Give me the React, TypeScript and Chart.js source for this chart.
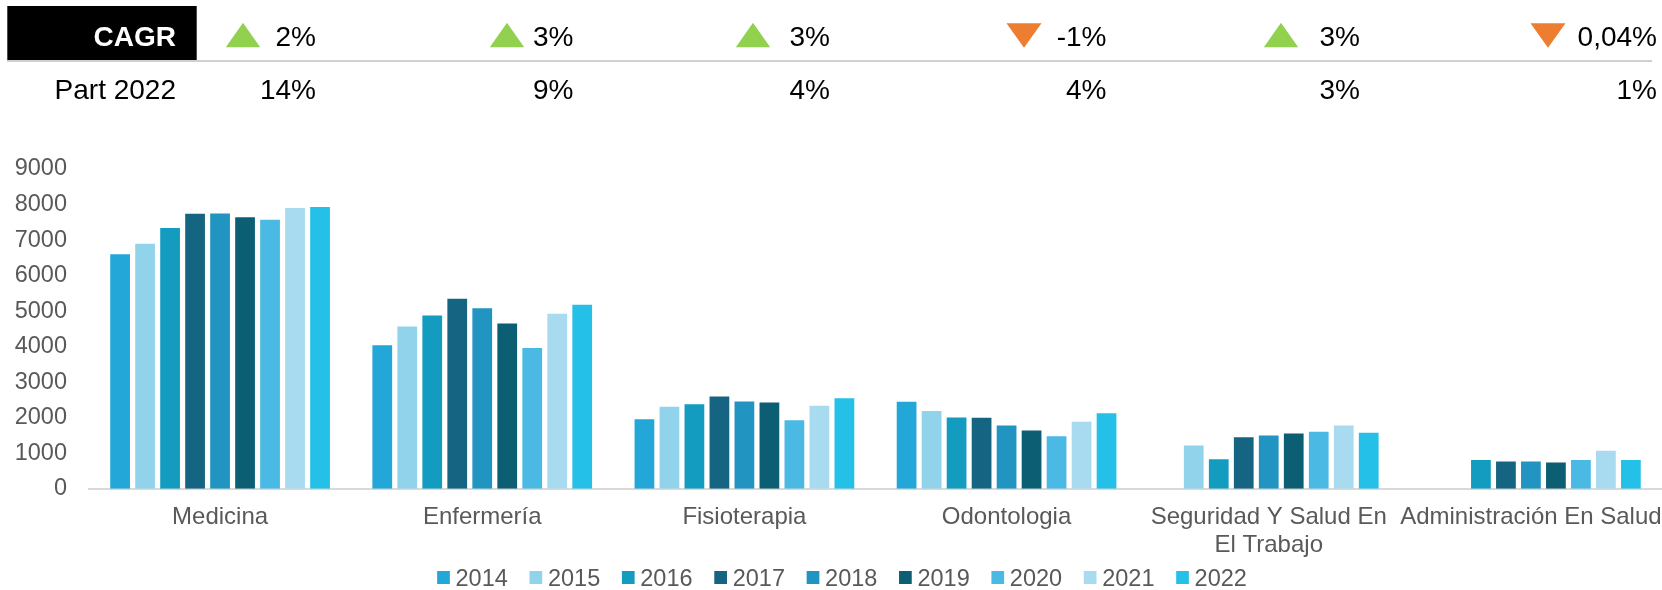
import React, { useEffect, useRef } from "react";
import { Chart, registerables } from "chart.js";

Chart.register(...registerables);

const FONT = '"Liberation Sans", Arial, Helvetica, sans-serif';

// ---------- DATA ----------
const CATEGORIES: (string | string[])[] = [
  "Medicina",
  "Enfermería",
  "Fisioterapia",
  "Odontologia",
  ["Seguridad Y Salud En", "El Trabajo"],
  "Administración En Salud",
];
const YEARS = ["2014", "2015", "2016", "2017", "2018", "2019", "2020", "2021", "2022"];

const V2014 = [6600, 4040, 1960, 2450, null, null];
const V2015 = [6900, 4570, 2310, 2190, 1220, null];
const V2016 = [7340, 4880, 2380, 2010, 830, 810];
const V2017 = [7740, 5350, 2600, 2000, 1450, 770];
const V2018 = [7750, 5080, 2460, 1780, 1500, 770];
const V2019 = [7640, 4650, 2430, 1640, 1560, 740];
const V2020 = [7570, 3960, 1930, 1480, 1610, 810];
const V2021 = [7900, 4930, 2340, 1890, 1785, 1075];
const V2022 = [7930, 5180, 2550, 2130, 1580, 810];
const SERIES = [V2014, V2015, V2016, V2017, V2018, V2019, V2020, V2021, V2022];

const Y_MIN = 0;
const Y_MAX = 9000;
const Y_STEP = 1000;

const CAGR_LABEL = "CAGR";
const CAGR_VALUES = ["2%", "3%", "3%", "-1%", "3%", "0,04%"];
const CAGR_UP = [true, true, true, false, true, false];
const PART_LABEL = "Part 2022";
const PART_VALUES = ["14%", "9%", "4%", "4%", "3%", "1%"];

// ---------- STYLE / LAYOUT ----------
const COLORS = [
  "#23A6D8",
  "#92D3EC",
  "#139CC0",
  "#156482",
  "#2194C2",
  "#0C5E73",
  "#4AB9E4",
  "#A8DBEF",
  "#25C0E8",
];
const HEADER_TEXT_RIGHT = [316, 573.5, 830, 1106.5, 1360, 1657];
const HEADER_TRI_CX = [243, 507, 753, 1024, 1281, 1548];
const LEGEND_CENTER_X = 842;

const headerPlugin = {
  id: "headerTable",
  afterDraw(chart: any) {
    const ctx = chart.ctx as CanvasRenderingContext2D;
    ctx.save();
    // black box
    ctx.fillStyle = "#000000";
    ctx.fillRect(7.3, 6, 189.4, 54);
    // separator
    ctx.fillStyle = "#D0D0D0";
    ctx.fillRect(7, 60, 1645, 2);
    ctx.textBaseline = "alphabetic";
    ctx.textAlign = "right";
    ctx.fillStyle = "#FFFFFF";
    ctx.font = `bold 28px ${FONT}`;
    ctx.fillText(CAGR_LABEL, 176, 46);
    ctx.fillStyle = "#000000";
    ctx.font = `28px ${FONT}`;
    ctx.fillText(PART_LABEL, 176, 99.3);
    CAGR_VALUES.forEach((v, i) => {
      ctx.fillStyle = "#000000";
      ctx.fillText(v, HEADER_TEXT_RIGHT[i], 46);
      ctx.fillText(PART_VALUES[i], HEADER_TEXT_RIGHT[i], 99.3);
      const cx = HEADER_TRI_CX[i];
      ctx.beginPath();
      if (CAGR_UP[i]) {
        ctx.fillStyle = "#92D050";
        ctx.moveTo(cx - 17.2, 47.3);
        ctx.lineTo(cx + 17.2, 47.3);
        ctx.lineTo(cx, 22.7);
      } else {
        ctx.fillStyle = "#ED7D31";
        ctx.moveTo(cx - 17.5, 23.3);
        ctx.lineTo(cx + 17.5, 23.3);
        ctx.lineTo(cx, 47.7);
      }
      ctx.closePath();
      ctx.fill();
    });
    ctx.restore();
  },
};

const legendPlugin = {
  id: "customLegend",
  afterDraw(chart: any) {
    const ctx = chart.ctx as CanvasRenderingContext2D;
    ctx.save();
    ctx.font = `23.5px ${FONT}`;
    const BOX_W = 12.7;
    const BOX_H = 13;
    const GAP = 5.7;
    const SPACING = 21.7;
    const items = chart.data.datasets.map((ds: any) => ({
      label: ds.label as string,
      color: ds.backgroundColor as string,
      w: ctx.measureText(ds.label).width,
    }));
    const total =
      items.reduce((s: number, it: any) => s + BOX_W + GAP + it.w, 0) +
      SPACING * (items.length - 1);
    let x = LEGEND_CENTER_X - total / 2;
    ctx.textAlign = "left";
    ctx.textBaseline = "alphabetic";
    items.forEach((it: any) => {
      ctx.fillStyle = it.color;
      ctx.fillRect(x, 571, BOX_W, BOX_H);
      ctx.fillStyle = "#595959";
      ctx.fillText(it.label, x + BOX_W + GAP, 586);
      x += BOX_W + GAP + it.w + SPACING;
    });
    ctx.restore();
  },
};

export default function App() {
  const canvasRef = useRef<HTMLCanvasElement | null>(null);

  useEffect(() => {
    if (!canvasRef.current) return;
    const chart = new Chart(canvasRef.current, {
      type: "bar",
      data: {
        labels: CATEGORIES as any,
        datasets: YEARS.map((y, i) => ({
          label: y,
          data: SERIES[i] as any,
          backgroundColor: COLORS[i],
          borderWidth: 0,
          barPercentage: 0.79,
          categoryPercentage: 0.858,
        })),
      },
      options: {
        responsive: false,
        animation: false,
        devicePixelRatio: 1,
        layout: { padding: { top: 169, left: 11.7, right: 0, bottom: 30.5 } },
        plugins: {
          legend: { display: false },
          tooltip: { enabled: false },
        },
        scales: {
          x: {
            grid: { display: false, drawTicks: true, tickLength: 14 },
            border: { display: true, color: "#D9D9D9", width: 2 },
            ticks: {
              padding: 0,
              color: "#595959",
              font: { family: FONT, size: 24, lineHeight: 1.18 },
              maxRotation: 0,
              minRotation: 0,
              autoSkip: false,
            },
          },
          y: {
            min: Y_MIN,
            max: Y_MAX,
            grid: { display: false, drawTicks: true, tickLength: 19 },
            border: { display: false },
            ticks: {
              stepSize: Y_STEP,
              padding: 3,
              color: "#595959",
              font: { family: FONT, size: 23.5 },
              callback: (v: any) => String(v),
            },
          },
        },
      },
      plugins: [headerPlugin, legendPlugin],
    });
    return () => chart.destroy();
  }, []);

  return (
    <div
      style={{
        position: "fixed",
        left: 0,
        top: 0,
        width: 1662,
        height: 590,
        background: "#FFFFFF",
        overflow: "hidden",
      }}
    >
      <canvas ref={canvasRef} width={1662} height={590} style={{ display: "block" }} />
    </div>
  );
}
